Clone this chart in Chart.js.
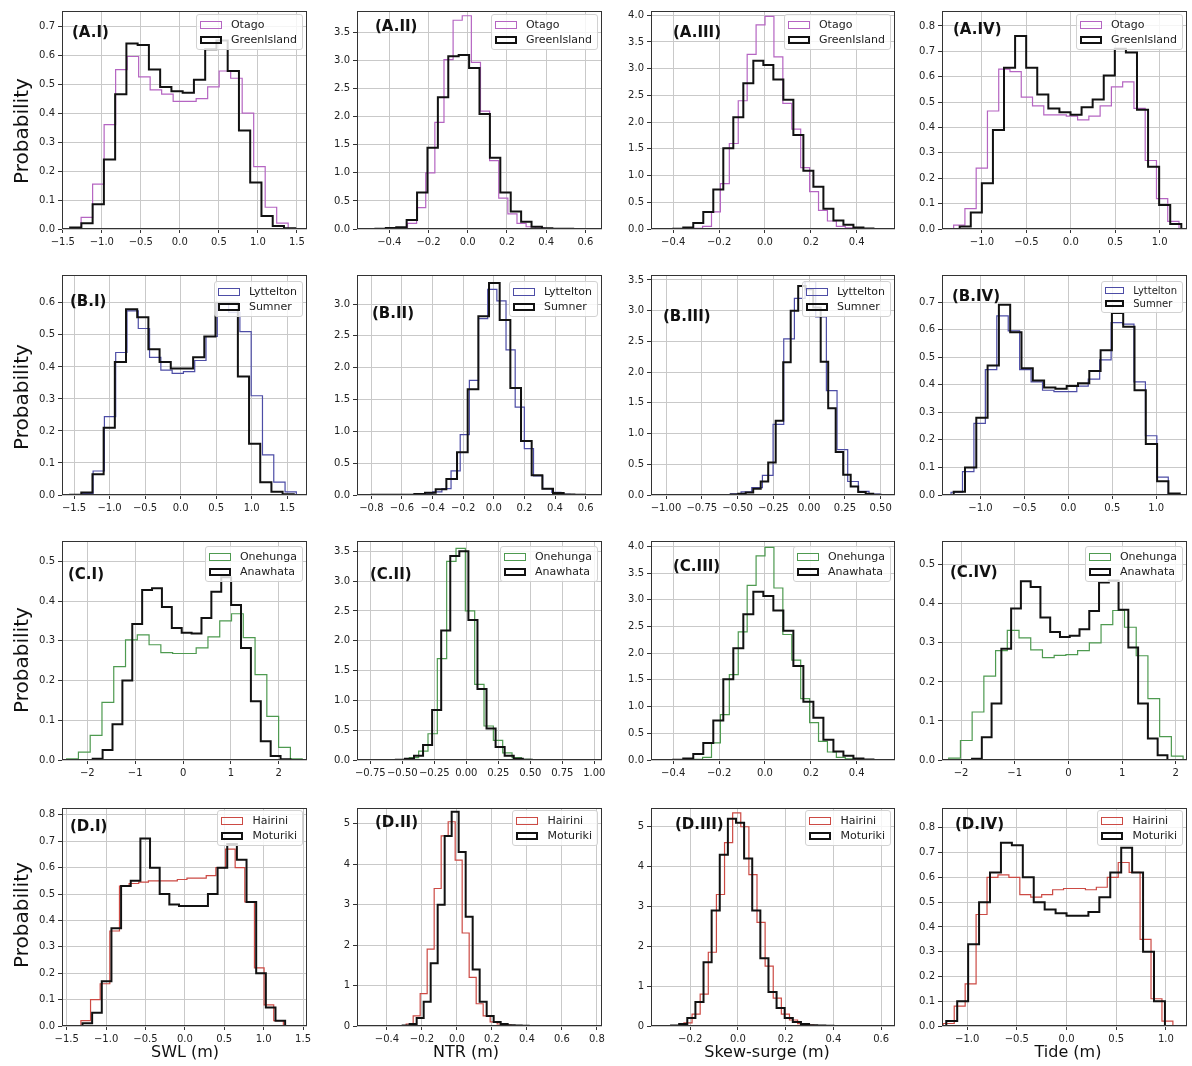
<!DOCTYPE html>
<html><head><meta charset="utf-8">
<script src="https://cdn.jsdelivr.net/npm/chart.js@4.4.1/dist/chart.umd.min.js"></script>
<style>
html,body{margin:0;padding:0;background:#fff;}
body{width:1192px;height:1066px;position:relative;overflow:hidden;font-family:"DejaVu Sans",sans-serif;}
.pw{position:absolute;}
.pw canvas{position:absolute;left:0;top:0;}
.lab{position:absolute;font-weight:bold;font-size:15px;color:#111;white-space:nowrap;line-height:15px;}
.leg{position:absolute;background:rgba(255,255,255,0.82);border:1px solid #d2d2d2;border-radius:3px;padding:2px 5px 2px 3px;font-size:11px;color:#222;}
.leg .row{display:flex;align-items:center;height:15px;white-space:nowrap;}
.leg .sw{width:22px;height:8px;margin-right:9px;box-sizing:border-box;display:inline-block;}
.ylab{position:absolute;width:200px;height:24px;line-height:24px;text-align:center;font-size:20px;color:#111;transform:rotate(-90deg);white-space:nowrap;}
.xlab{position:absolute;font-size:16px;color:#111;white-space:nowrap;transform:translateX(-50%);line-height:18px;}
</style></head><body>
<script>
// ================= DATA (histogram heights + first/last bin edge) =================
// Row A : SWL / NTR / Skew-surge / Tide  — Otago vs GreenIsland
const A1_Otago = [0.04,0.155,0.36,0.55,0.595,0.525,0.48,0.465,0.44,0.44,0.45,0.49,0.545,0.52,0.40,0.215,0.075,0.02];
const A1_Otago_edges = [-1.265, 1.389];
const A1_GreenIsland = [0.005,0.02,0.085,0.24,0.465,0.64,0.635,0.55,0.49,0.475,0.47,0.515,0.62,0.65,0.545,0.34,0.16,0.045,0.01,0.003];
const A1_GreenIsland_edges = [-1.406, 1.479];

const A2_Otago = [0.02,0.1,0.38,1.0,1.9,3.02,3.72,3.8,2.97,2.1,1.22,0.55,0.27,0.1,0.04,0.015,0.005,0.002];
const A2_Otago_edges = [-0.354, 0.484];
const A2_GreenIsland = [0.003,0.02,0.03,0.16,0.65,1.45,2.35,3.08,3.1,2.87,2.05,1.27,0.65,0.31,0.13,0.04,0.012,0.005,0.003,0.002];
const A2_GreenIsland_edges = [-0.471, 0.591];

const A3_Otago = [0.01,0.05,0.32,0.85,1.6,2.4,3.27,3.82,3.98,3.22,2.35,1.87,1.15,0.7,0.35,0.15,0.05,0.02,0.005];
const A3_Otago_edges = [-0.311, 0.428];
const A3_GreenIsland = [0.005,0.03,0.11,0.32,0.74,1.51,2.09,2.73,3.15,3.07,2.80,2.42,1.76,1.09,0.79,0.38,0.16,0.08,0.03,0.01];
const A3_GreenIsland_edges = [-0.4, 0.473];

const A4_Otago = [0.015,0.08,0.24,0.465,0.63,0.62,0.52,0.485,0.45,0.45,0.445,0.43,0.445,0.485,0.56,0.58,0.475,0.27,0.12,0.03];
const A4_Otago_edges = [-1.318, 1.217];
const A4_GreenIsland = [0.01,0.065,0.18,0.39,0.635,0.76,0.635,0.53,0.475,0.46,0.45,0.48,0.51,0.605,0.71,0.695,0.47,0.245,0.095,0.02];
const A4_GreenIsland_edges = [-1.25, 1.243];

// Row B : Lyttelton vs Sumner
const B1_Lyttelton = [0.001,0.005,0.075,0.245,0.445,0.575,0.52,0.43,0.39,0.38,0.385,0.42,0.495,0.6,0.57,0.51,0.31,0.125,0.04,0.01];
const B1_Lyttelton_edges = [-1.55, 1.63];
const B1_Sumner = [0.001,0.008,0.065,0.21,0.415,0.58,0.555,0.455,0.415,0.395,0.395,0.43,0.495,0.6,0.6,0.37,0.16,0.04,0.01,0.002];
const B1_Sumner_edges = [-1.556, 1.594];

const B2_Lyttelton = [0.005,0.02,0.05,0.1,0.38,0.95,1.8,2.77,3.23,3.05,2.28,1.38,0.73,0.3,0.1,0.04,0.01];
const B2_Lyttelton_edges = [-0.519, 0.499];
const B2_Sumner = [0.002,0.002,0.003,0.005,0.015,0.035,0.09,0.25,0.67,1.66,2.81,3.33,2.75,1.68,0.85,0.31,0.1,0.03,0.008,0.003];
const B2_Sumner_edges = [-0.798, 0.596];

const B3_Lyttelton = [0.02,0.05,0.12,0.32,1.15,2.54,3.2,3.47,2.9,1.7,0.74,0.22,0.06,0.015];
const B3_Lyttelton_edges = [-0.55, 0.493];
const B3_Sumner = [0.01,0.02,0.04,0.1,0.22,0.53,1.21,2.16,3.0,3.4,3.35,3.05,2.17,1.41,0.7,0.33,0.14,0.05,0.02,0.005];
const B3_Sumner_edges = [-0.548, 0.5];

const B4_Lyttelton = [0.01,0.085,0.26,0.455,0.65,0.595,0.455,0.41,0.38,0.375,0.375,0.395,0.42,0.49,0.625,0.62,0.41,0.215,0.065,0.005];
const B4_Lyttelton_edges = [-1.335, 1.267];
const B4_Sumner = [0.012,0.10,0.28,0.47,0.69,0.59,0.46,0.415,0.39,0.385,0.395,0.405,0.45,0.525,0.66,0.61,0.38,0.185,0.05,0.005];
const B4_Sumner_edges = [-1.305, 1.267];

// Row C : Onehunga vs Anawhata
const C1_Onehunga = [0.003,0.02,0.062,0.145,0.235,0.302,0.315,0.29,0.27,0.268,0.268,0.282,0.31,0.35,0.368,0.308,0.215,0.11,0.032,0.003];
const C1_Onehunga_edges = [-2.433, 2.489];
const C1_Anawhata = [0.003,0.025,0.09,0.2,0.342,0.428,0.432,0.385,0.332,0.32,0.318,0.357,0.423,0.46,0.39,0.282,0.148,0.047,0.01,0.002];
const C1_Anawhata_edges = [-1.888, 2.244];

const C2_Onehunga = [0.001,0.001,0.003,0.008,0.04,0.15,0.44,1.7,3.33,3.55,2.5,1.27,0.57,0.33,0.12,0.04,0.01,0.003];
const C2_Onehunga_edges = [-0.737, 0.576];
const C2_Anawhata = [0.001,0.001,0.002,0.005,0.02,0.07,0.25,0.84,2.17,3.42,3.5,2.35,1.19,0.53,0.22,0.07,0.02,0.005,0.002];
const C2_Anawhata_edges = [-0.763, 0.583];

const C3_Onehunga = [0.01,0.05,0.32,0.85,1.6,2.4,3.27,3.82,3.98,3.22,2.35,1.87,1.15,0.7,0.35,0.15,0.05,0.02,0.005];
const C3_Onehunga_edges = [-0.311, 0.428];
const C3_Anawhata = [0.005,0.03,0.11,0.32,0.74,1.51,2.09,2.73,3.15,3.07,2.80,2.42,1.76,1.09,0.79,0.38,0.16,0.08,0.03,0.01];
const C3_Anawhata_edges = [-0.4, 0.473];

const C4_Onehunga = [0.005,0.05,0.123,0.215,0.28,0.332,0.313,0.282,0.262,0.268,0.27,0.28,0.3,0.347,0.383,0.34,0.267,0.157,0.06,0.01];
const C4_Onehunga_edges = [-2.23, 2.137];
const C4_Anawhata = [0.003,0.058,0.145,0.285,0.388,0.458,0.443,0.365,0.328,0.315,0.318,0.335,0.382,0.455,0.46,0.385,0.288,0.145,0.055,0.012];
const C4_Anawhata_edges = [-1.795, 1.845];

// Row D : Hairini vs Moturiki
const D1_Hairini = [0.02,0.1,0.16,0.36,0.53,0.54,0.545,0.55,0.55,0.55,0.555,0.56,0.56,0.57,0.6,0.67,0.6,0.47,0.22,0.08,0.02];
const D1_Hairini_edges = [-1.32, 1.25];
const D1_Moturiki = [0.01,0.05,0.17,0.37,0.53,0.55,0.71,0.6,0.5,0.46,0.455,0.455,0.455,0.5,0.6,0.69,0.63,0.47,0.2,0.07,0.02];
const D1_Moturiki_edges = [-1.30, 1.2725];

const D2_Hairini = [0.01,0.05,0.25,0.8,1.9,3.4,4.7,5.05,4.1,2.3,1.2,0.55,0.25,0.1,0.05,0.02,0.01,0.005];
const D2_Hairini_edges = [-0.33, 0.39];
const D2_Moturiki = [0.01,0.05,0.2,0.6,1.55,3.0,4.7,5.3,4.3,2.7,1.4,0.6,0.25,0.1,0.05,0.02,0.01,0.005,0.003,0.002];
const D2_Moturiki_edges = [-0.31, 0.49];

const D3_Hairini = [0.01,0.08,0.3,0.8,1.85,3.3,4.6,5.35,5.0,3.8,2.6,1.5,0.7,0.3,0.15,0.06,0.02,0.01];
const D3_Hairini_edges = [-0.26, 0.352];
const D3_Moturiki = [0.01,0.05,0.2,0.6,1.6,2.9,4.3,5.2,5.1,4.2,2.9,1.7,0.85,0.45,0.2,0.1,0.05,0.02,0.01,0.005,0.003,0.002];
const D3_Moturiki_edges = [-0.28, 0.468];

const D4_Hairini = [0.01,0.08,0.17,0.45,0.6,0.61,0.6,0.53,0.52,0.53,0.55,0.555,0.555,0.55,0.56,0.6,0.66,0.62,0.35,0.11,0.02];
const D4_Hairini_edges = [-1.24, 1.07];
const D4_Moturiki = [0.02,0.1,0.33,0.5,0.62,0.74,0.73,0.6,0.5,0.47,0.455,0.445,0.445,0.46,0.52,0.62,0.72,0.62,0.3,0.1];
const D4_Moturiki_edges = [-1.21, 0.99];

// ================= TICK VALUES =================
const X_SWL_AB = [-1.5,-1.0,-0.5,0.0,0.5,1.0,1.5];
const X_A2 = [-0.4,-0.2,0.0,0.2,0.4,0.6];
const X_A3 = [-0.4,-0.2,0.0,0.2,0.4];
const X_TIDE = [-1.0,-0.5,0.0,0.5,1.0];
const X_B2 = [-0.8,-0.6,-0.4,-0.2,0.0,0.2,0.4,0.6];
const X_B3 = [-1.0,-0.75,-0.5,-0.25,0.0,0.25,0.5];
const X_C1 = [-2,-1,0,1,2];
const X_C2 = [-0.75,-0.5,-0.25,0.0,0.25,0.5,0.75,1.0];
const X_D2 = [-0.4,-0.2,0.0,0.2,0.4,0.6,0.8];
const X_D3 = [-0.2,0.0,0.2,0.4,0.6];

const Y_07 = [0,0.1,0.2,0.3,0.4,0.5,0.6,0.7];
const Y_08 = [0,0.1,0.2,0.3,0.4,0.5,0.6,0.7,0.8];
const Y_06 = [0,0.1,0.2,0.3,0.4,0.5,0.6];
const Y_05 = [0,0.1,0.2,0.3,0.4,0.5];
const Y_30 = [0,0.5,1.0,1.5,2.0,2.5,3.0];
const Y_35 = [0,0.5,1.0,1.5,2.0,2.5,3.0,3.5];
const Y_40 = [0,0.5,1.0,1.5,2.0,2.5,3.0,3.5,4.0];
const Y_5 = [0,1,2,3,4,5];

const X_TITLES = ['SWL (m)','NTR (m)','Skew-surge (m)','Tide (m)'];
const Y_TITLE = 'Probability';

// ================= STYLE / LAYOUT =================
const COL = {mag:'#b565c2', blu:'#4d4da6', grn:'#4e9a50', red:'#cc4a44', blk:'#111111'};
const COLS_L = [62, 357, 651, 942], COLS_R = [307, 602, 895, 1187];
const ROWS_T = [8, 272, 538, 805], ROWS_B = [229, 495, 760, 1026];
const LEG_TOP = [6, 9, 8, 5];
const PAD = {l:44, t:6, r:8, b:26};

const PANELS = [
 {r:0,c:0,tag:'(A.I)',  xr:[-1.51,1.63], yr:[0,0.752], xt:X_SWL_AB, xd:1, yt:Y_07, yd:1, lab:[10,25],
  s:[['Otago',A1_Otago,A1_Otago_edges,'mag'],['GreenIsland',A1_GreenIsland,A1_GreenIsland_edges,'blk']]},
 {r:0,c:1,tag:'(A.II)', xr:[-0.565,0.685], yr:[0,3.885], xt:X_A2, xd:1, yt:Y_35, yd:1, lab:[18,19],
  s:[['Otago',A2_Otago,A2_Otago_edges,'mag'],['GreenIsland',A2_GreenIsland,A2_GreenIsland_edges,'blk']]},
 {r:0,c:2,tag:'(A.III)',xr:[-0.497,0.567], yr:[0,4.08], xt:X_A3, xd:1, yt:Y_40, yd:1, lab:[22,25],
  s:[['Otago',A3_Otago,A3_Otago_edges,'mag'],['GreenIsland',A3_GreenIsland,A3_GreenIsland_edges,'blk']]},
 {r:0,c:3,tag:'(A.IV)', xr:[-1.449,1.307], yr:[0,0.859], xt:X_TIDE, xd:1, yt:Y_08, yd:1, lab:[11,22],
  s:[['Otago',A4_Otago,A4_Otago_edges,'mag'],['GreenIsland',A4_GreenIsland,A4_GreenIsland_edges,'blk']]},

 {r:1,c:0,tag:'(B.I)',  xr:[-1.67,1.78], yr:[0,0.687], xt:X_SWL_AB, xd:1, yt:Y_06, yd:1, lab:[8,30],
  s:[['Lyttelton',B1_Lyttelton,B1_Lyttelton_edges,'blu'],['Sumner',B1_Sumner,B1_Sumner_edges,'blk']]},
 {r:1,c:1,tag:'(B.II)', xr:[-0.894,0.707], yr:[0,3.457], xt:X_B2, xd:1, yt:Y_30, yd:1, lab:[15,42],
  s:[['Lyttelton',B2_Lyttelton,B2_Lyttelton_edges,'blu'],['Sumner',B2_Sumner,B2_Sumner_edges,'blk']]},
 {r:1,c:2,tag:'(B.III)',xr:[-1.105,0.60], yr:[0,3.58], xt:X_B3, xd:2, yt:Y_35, yd:1, lab:[12,45],
  s:[['Lyttelton',B3_Lyttelton,B3_Lyttelton_edges,'blu'],['Sumner',B3_Sumner,B3_Sumner_edges,'blk']]},
 {r:1,c:3,tag:'(B.IV)', xr:[-1.438,1.35], yr:[0,0.798], xt:X_TIDE, xd:1, yt:Y_07, yd:1, lab:[10,25], small:true,
  s:[['Lyttelton',B4_Lyttelton,B4_Lyttelton_edges,'blu'],['Sumner',B4_Sumner,B4_Sumner_edges,'blk']]},

 {r:2,c:0,tag:'(C.I)',  xr:[-2.53,2.59], yr:[0,0.551], xt:X_C1, xd:0, yt:Y_05, yd:1, lab:[6,37],
  s:[['Onehunga',C1_Onehunga,C1_Onehunga_edges,'grn'],['Anawhata',C1_Anawhata,C1_Anawhata_edges,'blk']]},
 {r:2,c:1,tag:'(C.II)', xr:[-0.854,1.06], yr:[0,3.673], xt:X_C2, xd:2, yt:Y_35, yd:1, lab:[13,37],
  s:[['Onehunga',C2_Onehunga,C2_Onehunga_edges,'grn'],['Anawhata',C2_Anawhata,C2_Anawhata_edges,'blk']]},
 {r:2,c:2,tag:'(C.III)',xr:[-0.497,0.567], yr:[0,4.10], xt:X_A3, xd:1, yt:Y_40, yd:1, lab:[22,29],
  s:[['Onehunga',C3_Onehunga,C3_Onehunga_edges,'grn'],['Anawhata',C3_Anawhata,C3_Anawhata_edges,'blk']]},
 {r:2,c:3,tag:'(C.IV)', xr:[-2.355,2.21], yr:[0,0.561], xt:X_C1, xd:0, yt:Y_05, yd:1, lab:[8,35],
  s:[['Onehunga',C4_Onehunga,C4_Onehunga_edges,'grn'],['Anawhata',C4_Anawhata,C4_Anawhata_edges,'blk']]},

 {r:3,c:0,tag:'(D.I)',  xr:[-1.56,1.55], yr:[0,0.826], xt:X_SWL_AB, xd:1, yt:Y_08, yd:1, lab:[8,22],
  s:[['Hairini',D1_Hairini,D1_Hairini_edges,'red'],['Moturiki',D1_Moturiki,D1_Moturiki_edges,'blk']]},
 {r:3,c:1,tag:'(D.II)', xr:[-0.571,0.829], yr:[0,5.39], xt:X_D2, xd:1, yt:Y_5, yd:0, lab:[18,18],
  s:[['Hairini',D2_Hairini,D2_Hairini_edges,'red'],['Moturiki',D2_Moturiki,D2_Moturiki_edges,'blk']]},
 {r:3,c:2,tag:'(D.III)',xr:[-0.364,0.658], yr:[0,5.47], xt:X_D3, xd:1, yt:Y_5, yd:0, lab:[24,20],
  s:[['Hairini',D3_Hairini,D3_Hairini_edges,'red'],['Moturiki',D3_Moturiki,D3_Moturiki_edges,'blk']]},
 {r:3,c:3,tag:'(D.IV)', xr:[-1.253,1.212], yr:[0,0.88], xt:X_TIDE, xd:1, yt:Y_08, yd:1, lab:[13,20],
  s:[['Hairini',D4_Hairini,D4_Hairini_edges,'red'],['Moturiki',D4_Moturiki,D4_Moturiki_edges,'blk']]}
];

// ================= BUILD =================
Chart.defaults.font.family = '"DejaVu Sans", sans-serif';
Chart.defaults.font.size = 10;
Chart.defaults.color = '#222';

function fmt(v, d){ const s = Math.abs(v).toFixed(d); return (v < -1e-9 ? '\u2212' : '') + s; }

// step-histogram outline: (lo,0) -> up -> across each bin -> down at hi
function histPoints(vals, edges){
  const n = vals.length, w = (edges[1] - edges[0]) / n;
  const pts = [{x: edges[0], y: 0}];
  for (let i = 0; i < n; i++) pts.push({x: edges[0] + i * w, y: vals[i]});
  pts.push({x: edges[1], y: 0});
  return pts;
}

const framePlugin = {
  id: 'frame',
  afterDraw(chart){
    const {ctx, chartArea: a} = chart;
    ctx.save();
    ctx.strokeStyle = '#333'; ctx.lineWidth = 1;
    ctx.strokeRect(Math.round(a.left) + 0.5, Math.round(a.top) + 0.5, Math.round(a.right - a.left) - 1, Math.round(a.bottom - a.top) - 1);
    ctx.restore();
  }
};

function axis(range, ticks, dec, isX){
  return {
    type: 'linear', bounds: 'data', min: range[0], max: range[1],
    afterBuildTicks: s => { s.ticks = ticks.map(v => ({value: v})); },
    afterFit: s => { if (isX) s.height = PAD.b; else s.width = PAD.l; },
    ticks: {callback: v => fmt(v, dec), autoSkip: false, maxRotation: 0, minRotation: 0, padding: 3, color: '#222', font: {size: 10}},
    grid: {color: '#c9c9c9', lineWidth: 1, drawTicks: true, tickLength: 4, tickColor: '#333', tickWidth: 1},
    border: {display: false}
  };
}

PANELS.forEach(p => {
  const L = COLS_L[p.c], R = COLS_R[p.c], T = ROWS_T[p.r], B = ROWS_B[p.r];
  const W = R - L + PAD.l + PAD.r, H = B - T + PAD.t + PAD.b;
  const div = document.createElement('div');
  div.className = 'pw';
  div.style.left = (L - PAD.l) + 'px'; div.style.top = (T - PAD.t) + 'px';
  div.style.width = W + 'px'; div.style.height = H + 'px';
  const cv = document.createElement('canvas');
  cv.width = W; cv.height = H; cv.style.width = W + 'px'; cv.style.height = H + 'px';
  div.appendChild(cv);
  document.body.appendChild(div);

  const datasets = p.s.map(s => {
    const black = s[3] === 'blk';
    return {
      label: s[0], data: histPoints(s[1], s[2]),
      borderColor: COL[s[3]], borderWidth: black ? 2 : 1.2,
      stepped: 'before', pointRadius: 0, pointHoverRadius: 0, fill: false, tension: 0,
      borderJoinStyle: 'miter', borderCapStyle: 'butt', order: black ? 0 : 1
    };
  });

  new Chart(cv, {
    type: 'line',
    data: {datasets},
    options: {
      responsive: false, animation: false, devicePixelRatio: 1,
      layout: {padding: {left: 0, top: PAD.t, right: PAD.r, bottom: 0}},
      plugins: {legend: {display: false}, tooltip: {enabled: false}},
      scales: {x: axis(p.xr, p.xt, p.xd, true), y: axis(p.yr, p.yt, p.yd, false)}
    },
    plugins: [framePlugin]
  });

  // panel tag
  const lab = document.createElement('div');
  lab.className = 'lab'; lab.textContent = p.tag;
  lab.style.left = (L + p.lab[0]) + 'px'; lab.style.top = (T + p.lab[1] - 8) + 'px';
  document.body.appendChild(lab);

  // legend
  const leg = document.createElement('div');
  leg.className = 'leg';
  leg.style.right = (1192 - R + 4) + 'px'; leg.style.top = (T + LEG_TOP[p.r]) + 'px';
  if (p.small) { leg.style.fontSize = '10px'; }
  p.s.forEach(s => {
    const row = document.createElement('div'); row.className = 'row';
    if (p.small) row.style.height = '13px';
    const sw = document.createElement('span'); sw.className = 'sw';
    const black = s[3] === 'blk';
    sw.style.border = (black ? 2 : 1) + 'px solid ' + COL[s[3]];
    if (p.small) { sw.style.width = '19px'; sw.style.height = '7px'; }
    const tx = document.createElement('span'); tx.textContent = s[0];
    row.appendChild(sw); row.appendChild(tx); leg.appendChild(row);
  });
  document.body.appendChild(leg);
});

// y titles
[131, 397, 660, 915].forEach(cy => {
  const d = document.createElement('div'); d.className = 'ylab'; d.textContent = Y_TITLE;
  d.style.left = (21 - 100) + 'px'; d.style.top = (cy - 12) + 'px';
  document.body.appendChild(d);
});
// x titles
[185, 466, 767, 1068].forEach((cx, i) => {
  const d = document.createElement('div'); d.className = 'xlab'; d.textContent = X_TITLES[i];
  d.style.left = cx + 'px'; d.style.top = '1043px';
  document.body.appendChild(d);
});
</script>
</body></html>
